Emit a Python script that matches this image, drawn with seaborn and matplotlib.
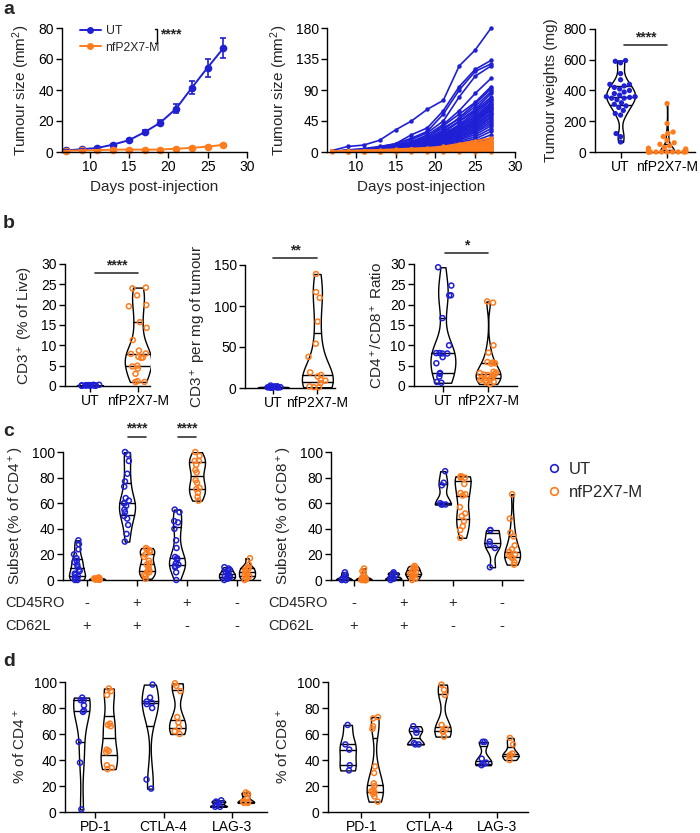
import numpy as np
import pandas as pd
import matplotlib
matplotlib.use('Agg')
import matplotlib.pyplot as plt
import seaborn as sns
from matplotlib.lines import Line2D

sns.set_style('ticks')
plt.rcParams['font.family'] = ['Liberation Sans', 'DejaVu Sans']
plt.rcParams['mathtext.fontset'] = 'custom'
plt.rcParams['mathtext.rm'] = 'Liberation Sans'
plt.rcParams['mathtext.it'] = 'Liberation Sans:italic'
plt.rcParams['mathtext.bf'] = 'Liberation Sans:bold'
plt.rcParams['axes.linewidth'] = 1.0
plt.rcParams['axes.edgecolor'] = 'black'
plt.rcParams['xtick.color'] = 'black'
plt.rcParams['ytick.color'] = 'black'
plt.rcParams['axes.labelsize'] = 11
plt.rcParams['xtick.labelsize'] = 10
plt.rcParams['ytick.labelsize'] = 10
np.random.seed(7)  # jitter of the strip points only

BLUE = '#1f1fd6'
ORANGE = '#ff7b1c'
groups = ['UT', 'nfP2X7-M']
pal = {'UT': BLUE, 'nfP2X7-M': ORANGE}
white = {'UT': 'white', 'nfP2X7-M': 'white'}

# ---- panel a: growth curves ----
days = [7, 9, 11, 13, 15, 17, 19, 21, 23, 25, 27]
ut_mean = [1.0, 1.8, 2.6, 4.8, 7.6, 12.8, 19.0, 28.0, 41.5, 54.5, 67.0]
ut_sem = [0.2, 0.3, 0.4, 0.6, 0.8, 1.4, 1.9, 2.8, 4.4, 5.8, 6.3]
nf_mean = [0.8, 1.0, 1.2, 1.5, 1.6, 1.5, 1.6, 2.1, 2.7, 3.5, 4.6]
nf_sem = [0.1, 0.1, 0.2, 0.2, 0.2, 0.2, 0.2, 0.3, 0.4, 0.5, 0.6]

ut_mice = [
    [2, 8, 10, 17, 32, 45, 62, 75, 125, 148, 180],
    [1, 3, 5, 8, 12, 25, 35, 60, 95, 120, 133],
    [1, 2, 4, 7, 12, 20, 30, 55, 90, 117, 128],
    [1, 2, 3, 6, 10, 18, 28, 45, 80, 110, 125],
    [1, 2, 3, 5, 9, 15, 25, 40, 60, 85, 107],
    [1, 2, 3, 5, 8, 14, 22, 38, 55, 72, 95],
    [1, 2, 3, 4, 8, 13, 20, 32, 50, 70, 92],
    [1, 2, 3, 5, 9, 15, 22, 35, 48, 66, 88],
    [1, 1, 2, 4, 7, 12, 18, 30, 45, 62, 85],
    [1, 2, 2, 4, 7, 11, 17, 28, 44, 60, 80],
    [1, 1, 2, 4, 6, 10, 16, 25, 40, 58, 77],
    [1, 2, 3, 5, 7, 12, 18, 27, 38, 55, 75],
    [1, 1, 2, 4, 6, 10, 15, 24, 36, 52, 72],
    [1, 2, 3, 4, 6, 11, 17, 26, 37, 50, 70],
    [1, 1, 2, 3, 6, 9, 14, 22, 34, 48, 68],
    [1, 1, 2, 4, 5, 9, 15, 23, 33, 46, 66],
    [1, 2, 2, 3, 6, 10, 14, 21, 32, 45, 64],
    [1, 1, 2, 3, 5, 8, 13, 20, 30, 44, 62],
    [1, 1, 2, 3, 5, 9, 12, 19, 29, 42, 60],
    [1, 2, 2, 3, 5, 8, 13, 20, 28, 40, 57],
    [1, 1, 2, 3, 4, 7, 11, 18, 27, 38, 55],
    [1, 1, 2, 3, 5, 8, 12, 17, 25, 36, 52],
    [1, 1, 1, 3, 4, 7, 10, 16, 24, 34, 50],
    [1, 1, 2, 2, 4, 6, 10, 15, 22, 32, 47],
    [1, 1, 1, 2, 4, 6, 9, 14, 21, 30, 44],
    [1, 1, 2, 3, 4, 6, 9, 13, 19, 28, 41],
    [1, 1, 1, 2, 3, 5, 8, 12, 18, 25, 38],
    [1, 1, 1, 2, 3, 5, 7, 11, 16, 22, 34],
    [1, 1, 1, 2, 3, 4, 7, 10, 14, 19, 30],
    [1, 1, 1, 2, 3, 4, 6, 8, 12, 16, 25],
    [1, 1, 1, 2, 2, 3, 5, 7, 10, 13, 20],
    [1, 1, 1, 1, 2, 3, 4, 6, 8, 11, 15],
]
nf_mice = [
    [1, 2, 2, 3, 4, 5, 6, 8, 12, 16, 20],
    [1, 1, 2, 2, 3, 4, 5, 7, 10, 13, 17],
    [1, 1, 1, 2, 3, 3, 4, 6, 8, 11, 15],
    [1, 1, 2, 2, 3, 4, 5, 6, 9, 12, 14],
    [1, 1, 1, 2, 2, 3, 4, 5, 7, 9, 13],
    [1, 1, 1, 2, 2, 3, 3, 5, 6, 8, 11],
    [1, 1, 1, 1, 2, 2, 3, 4, 5, 7, 10],
    [1, 1, 1, 1, 2, 2, 3, 3, 4, 6, 9],
    [1, 1, 1, 2, 2, 2, 3, 4, 5, 6, 8],
    [1, 1, 1, 1, 1, 2, 2, 3, 4, 5, 8],
    [1, 1, 1, 1, 1, 2, 2, 3, 3, 4, 7],
    [1, 1, 1, 1, 2, 2, 2, 3, 4, 5, 6],
    [1, 1, 1, 1, 1, 1, 2, 2, 3, 4, 6],
    [1, 1, 1, 1, 1, 1, 2, 2, 2, 3, 5],
    [1, 1, 1, 1, 1, 1, 1, 2, 2, 3, 4],
    [1, 1, 1, 1, 1, 1, 1, 1, 2, 2, 3],
    [1, 1, 1, 1, 1, 1, 1, 1, 1, 2, 2],
    [1, 1, 1, 1, 1, 1, 1, 1, 1, 1, 1],
    [1, 0, 0, 0, 1, 1, 1, 1, 1, 1, 1],
    [0, 0, 0, 0, 0, 0, 0, 0, 0, 0, 0],
]

wt_ut = [595, 590, 580, 510, 470, 440, 440, 430, 420, 410, 400, 390, 380, 370, 360,
         360, 355, 350, 350, 340, 320, 310, 300, 290, 270, 250, 240, 120, 100, 65]
wt_nf = [315, 185, 130, 120, 100, 75, 60, 50, 40, 30, 25, 20, 15, 10, 10, 5, 5, 5,
         0, 0, 0, 0, 0, 0, 0, 0, 0, 0]

# ---- panel b ----
cd3_ut = [0.1, 0.1, 0.2, 0.1, 0.3, 0.1, 0.2, 0.1, 0.1, 0.2, 0.3, 0.1, 0.2, 0.1, 0.2]
cd3_nf = [24.2, 24.0, 22.3, 19.9, 19.6, 15.7, 14.3, 11.3, 8.7, 8.0, 7.9, 7.2, 7.0,
          6.9, 5.0, 4.8, 4.3, 3.0, 1.2, 1.0, 1.0]
cd3mg_ut = [0.5, 1, 2, 1, 0.5, 3, 1, 0.5, 1, 2, 0.5, 1, 0.8, 1.5]
cd3mg_nf = [139, 117, 110, 81, 54, 38, 19, 16, 14, 10, 9, 6, 2, 1, 1]
ratio_ut = [29.2, 24.7, 22.3, 22.3, 16.7, 10.0, 8.1, 8.1, 8.0, 8.0, 7.1, 5.6, 3.2,
            3.0, 2.3, 1.0, 0.8]
ratio_nf = [20.8, 20.5, 10.0, 8.2, 5.9, 5.8, 5.6, 5.5, 3.5, 3.3, 3.2, 3.0, 2.8, 2.7,
            2.5, 2.2, 2.0, 1.8, 1.5, 1.3, 1.0, 0.8, 0.5]

# ---- panel c ----
cd45ro = ['-', '+', '+', '-']
cd62l = ['+', '+', '-', '-']
cd4_ut = [
    [31, 28, 24, 20, 17, 15, 14, 12, 10, 8, 7, 5, 4, 3, 2, 1, 0, 0],
    [100, 98, 93, 83, 77, 73, 64, 62, 60, 60, 58, 55, 53, 50, 48, 43, 36, 30],
    [55, 53, 46, 45, 40, 31, 25, 18, 17, 16, 13, 12, 11, 10, 6, 0],
    [10, 9, 8, 7, 6, 5, 5, 4, 3, 3, 2, 1, 1, 0],
]
cd4_nf = [
    [2, 1.5, 1.2, 1, 1, 0.8, 0.5, 0.5, 0.3, 0.2, 1, 0.7, 0.4, 0.2],
    [25, 24, 23, 22, 20, 18, 15, 13, 12, 10, 8, 7, 6, 4, 3, 1],
    [100, 97, 93, 93, 90, 86, 84, 78, 76, 72, 71, 68, 65, 62],
    [17, 12, 10, 9, 8, 7, 6, 5, 4, 3, 2, 1, 0],
]
cd8_ut = [
    [6, 4, 2, 1, 0, 0, 0],
    [6, 5, 4, 2, 1, 1, 0],
    [85, 76, 74, 60, 59, 59, 59],
    [39, 39, 30, 28, 25, 10],
]
cd8_nf = [
    [9, 7, 5, 3, 2, 1, 1, 0, 0, 0, 0, 0, 0],
    [11, 10, 9, 8, 7, 6, 5, 5, 4, 3, 2, 1, 0],
    [81, 81, 80, 80, 75, 68, 67, 66, 57, 52, 50, 46, 42, 39, 33],
    [67, 48, 37, 34, 27, 24, 22, 20, 19, 18, 17, 14, 12],
]

# ---- panel d ----
markers = ['PD-1', 'CTLA-4', 'LAG-3']
d4_ut = [[88, 86, 86, 82, 78, 77, 54, 38, 2],
         [98, 88, 85, 84, 83, 80, 25, 18],
         [9, 8, 7, 5, 4, 4]]
d4_nf = [[95, 93, 90, 68, 67, 66, 48, 47, 46, 36, 34, 33],
         [99, 97, 93, 73, 69, 65, 62, 60],
         [15, 14, 11, 8, 8, 7, 7]]
d8_ut = [[67, 52, 48, 36, 32],
         [66, 63, 61, 53, 52, 52],
         [54, 54, 41, 38, 37, 36]]
d8_nf = [[73, 72, 66, 64, 35, 30, 22, 20, 17, 16, 15, 14, 12, 8],
         [98, 94, 90, 67, 64, 62, 62, 58],
         [57, 52, 45, 44, 43, 40]]

W, H = 700, 833
fig = plt.figure(figsize=(7, 8.33), dpi=100)


def add_ax(l, t, r, b):
    return fig.add_axes([l / W, 1 - b / H, (r - l) / W, (b - t) / H])


def finish(ax):
    sns.despine(ax=ax)
    ax.tick_params(length=4, width=1, pad=2)


def hollow(ax, start, lw=1.1):
    for coll in ax.collections[start:]:
        fc = coll.get_facecolors()
        coll.set_edgecolors(fc)
        coll.set_facecolors('none')
        coll.set_linewidth(lw)
        coll.set_clip_on(False)


def sig(ax, x0, x1, y, ytxt, stars, fs=10):
    ax.plot([x0, x1], [y, y], color='#333333', lw=1.2, clip_on=False)
    ax.text((x0 + x1) / 2, ytxt, stars, ha='center', va='center', fontsize=fs,
            fontweight='bold', clip_on=False)


vio_kws = dict(linecolor='black', linewidth=1, inner='quart',
               inner_kws={'dashes': (None, None), 'linewidth': 1},
               cut=0, density_norm='width', bw_adjust=0.7, legend=False)


def two_group(ax, ut, nf, width, jitter=0.2):
    df = pd.DataFrame({'group': ['UT'] * len(ut) + ['nfP2X7-M'] * len(nf),
                       'value': list(ut) + list(nf)})
    sns.violinplot(data=df, x='group', y='value', hue='group', order=groups,
                   hue_order=groups, palette=white, width=width, dodge=False,
                   ax=ax, **vio_kws)
    n0 = len(ax.collections)
    sns.stripplot(data=df, x='group', y='value', hue='group', order=groups,
                  hue_order=groups, palette=pal, size=3.6, jitter=jitter,
                  legend=False, ax=ax)
    hollow(ax, n0)
    ax.set_xlabel('')


def multi_group(ax, cats, ut_lists, nf_lists, gap, jitter):
    rows = []
    for c, u, n in zip(cats, ut_lists, nf_lists):
        rows += [(c, 'UT', v) for v in u] + [(c, 'nfP2X7-M', v) for v in n]
    df = pd.DataFrame(rows, columns=['cat', 'group', 'value'])
    sns.violinplot(data=df, x='cat', y='value', hue='group', order=cats,
                   hue_order=groups, palette=white, width=0.8, gap=gap, ax=ax,
                   **vio_kws)
    n0 = len(ax.collections)
    sns.stripplot(data=df, x='cat', y='value', hue='group', order=cats,
                  hue_order=groups, palette=pal, dodge=True, size=3.6,
                  jitter=jitter, legend=False, ax=ax)
    hollow(ax, n0)
    ax.set_xlabel('')


# ================= a1 =================
ax = add_ax(62, 28, 247, 152)
sns.lineplot(x=days, y=ut_mean, color=BLUE, marker='o', markersize=5.5,
             markeredgewidth=0, lw=1.4, ax=ax)
sns.lineplot(x=days, y=nf_mean, color=ORANGE, marker='o', markersize=5.5,
             markeredgewidth=0, lw=1.4, ax=ax)
ax.errorbar(days, ut_mean, yerr=ut_sem, fmt='none', ecolor=BLUE, elinewidth=1.2,
            capsize=2.5, capthick=1.2)
ax.errorbar(days, nf_mean, yerr=nf_sem, fmt='none', ecolor=ORANGE, elinewidth=1.2,
            capsize=2.5, capthick=1.2)
for ln in ax.lines:
    ln.set_clip_on(False)
ax.set_xlim(6.5, 30)
ax.set_ylim(0, 80)
ax.set_xticks([10, 15, 20, 25, 30])
ax.set_yticks([0, 20, 40, 60, 80])
ax.set_xlabel('Days post-injection')
ax.set_ylabel('Tumour size (mm$^2$)')
hd = [Line2D([0], [0], color=BLUE, marker='o', ms=5, mew=0, lw=1.4, label='UT'),
      Line2D([0], [0], color=ORANGE, marker='o', ms=5, mew=0, lw=1.4,
             label='nfP2X7-M')]
ax.legend(handles=hd, loc='upper left', bbox_to_anchor=(0.07, 1.06),
          frameon=False, fontsize=8.8, handlelength=1.7, handletextpad=0.4,
          labelspacing=0.35, borderaxespad=0)
ax.plot([0.50, 0.515, 0.515, 0.50], [0.995, 0.995, 0.88, 0.88], color='black',
        lw=1, transform=ax.transAxes, clip_on=False)
ax.text(0.53, 0.945, '****', transform=ax.transAxes, fontsize=10,
        fontweight='bold', va='center')
finish(ax)

# ================= a2 =================
ax = add_ax(327, 28, 515, 152)
rows = []
for i, s in enumerate(ut_mice):
    rows += [('UT', i, d, v) for d, v in zip(days, s)]
df_ut = pd.DataFrame(rows, columns=['group', 'mouse', 'day', 'size'])
rows = []
for i, s in enumerate(nf_mice):
    rows += [('nfP2X7-M', i, d, v) for d, v in zip(days, s)]
df_nf = pd.DataFrame(rows, columns=['group', 'mouse', 'day', 'size'])
sns.lineplot(data=df_ut, x='day', y='size', units='mouse', estimator=None,
             color=BLUE, marker='o', markersize=3.2, markeredgewidth=0, lw=1.2,
             ax=ax)
sns.lineplot(data=df_nf, x='day', y='size', units='mouse', estimator=None,
             color=ORANGE, marker='o', markersize=3.2, markeredgewidth=0, lw=1.4,
             ax=ax)
for ln in ax.lines:
    ln.set_clip_on(False)
ax.set_xlim(6.4, 30)
ax.set_ylim(0, 180)
ax.set_xticks([10, 15, 20, 25, 30])
ax.set_yticks([0, 45, 90, 135, 180])
ax.set_xlabel('Days post-injection')
ax.set_ylabel('Tumour size (mm$^2$)')
finish(ax)

# ================= a3 =================
ax = add_ax(595, 29, 695, 152)
df = pd.DataFrame({'group': ['UT'] * len(wt_ut) + ['nfP2X7-M'] * len(wt_nf),
                   'value': wt_ut + wt_nf})
sns.violinplot(data=df[df.group == 'UT'], x='group', y='value', hue='group',
               order=groups, hue_order=groups, palette=white, width=0.62,
               dodge=False, ax=ax, **vio_kws)
sns.violinplot(data=df[df.group == 'nfP2X7-M'], x='group', y='value', hue='group',
               order=groups, hue_order=groups, palette=white, width=0.3,
               dodge=False, ax=ax, **vio_kws)
n0 = len(ax.collections)
sns.swarmplot(data=df, x='group', y='value', hue='group', order=groups,
              hue_order=groups, palette=pal, size=3.8, legend=False,
              warn_thresh=1, ax=ax)
for coll in ax.collections[n0:]:
    coll.set_clip_on(False)
ax.set_xlim(-0.55, 1.6)
ax.set_ylim(0, 800)
ax.set_yticks([0, 200, 400, 600, 800])
ax.set_xlabel('')
ax.set_ylabel('Tumour weights (mg)')
sig(ax, 0.08, 1.0, 696, 748, '****')
finish(ax)

# ================= b =================
ax = add_ax(65, 264, 150, 386)
two_group(ax, cd3_ut, cd3_nf, 0.55)
ax.set_xlim(-0.52, 1.25)
ax.set_ylim(0, 30)
ax.set_yticks(range(0, 31, 5))
ax.set_ylabel('CD3$^+$ (% of Live)')
sig(ax, 0.1, 1.0, 27.8, 29.7, '****')
finish(ax)

ax = add_ax(245, 265, 335, 388)
two_group(ax, cd3mg_ut, cd3mg_nf, 0.7)
ax.set_xlim(-0.64, 1.4)
ax.set_ylim(0, 150)
ax.set_yticks([0, 50, 100, 150])
ax.set_ylabel('CD3$^+$ per mg of tumour')
sig(ax, 0.0, 1.0, 158.5, 168, '**')
finish(ax)

ax = add_ax(414, 264, 517, 386)
two_group(ax, ratio_ut, ratio_nf, 0.55)
ax.set_xlim(-0.64, 1.64)
ax.set_ylim(0, 30)
ax.set_yticks(range(0, 31, 5))
ax.set_ylabel('CD4$^+$/CD8$^+$ Ratio')
sig(ax, 0.05, 1.0, 32.7, 34.6, '*')
finish(ax)

# ================= c =================
cats = [a + '/' + b for a, b in zip(cd45ro, cd62l)]
for (l, r, lo, hi), ut_l, nf_l, lab, x_lab in [
        ((63, 260, -0.48, 3.46), cd4_ut, cd4_nf, 'Subset (% of CD4$^+$)', 5),
        ((331, 523, -0.46, 3.42), cd8_ut, cd8_nf, 'Subset (% of CD8$^+$)', 268)]:
    ax = add_ax(l, 452, r, 580)
    multi_group(ax, cats, ut_l, nf_l, 0.2, 0.12)
    ax.set_xlim(lo, hi)
    ax.set_ylim(0, 100)
    ax.set_yticks(range(0, 101, 20))
    ax.set_xticks(range(4))
    ax.set_xticklabels([])
    ax.set_ylabel(lab)
    tr = ax.get_xaxis_transform()
    for i, (ro, lv) in enumerate(zip(cd45ro, cd62l)):
        ax.text(i, -0.18, ro, transform=tr, ha='center', va='center', fontsize=10.5)
        ax.text(i, -0.36, lv, transform=tr, ha='center', va='center', fontsize=10.5)
    fig.text(x_lab / W, 1 - 603 / H, 'CD45RO', fontsize=10.5, va='center')
    fig.text(x_lab / W, 1 - 626 / H, 'CD62L', fontsize=10.5, va='center')
    if lab.startswith('Subset (% of CD4'):
        sig(ax, 0.82, 1.18, 111.7, 118, '****')
        sig(ax, 1.82, 2.18, 111.7, 118, '****')
    finish(ax)

leg_h = [Line2D([], [], marker='o', ls='', mfc='none', mec=BLUE, mew=1.2, ms=5.5,
                label='UT'),
         Line2D([], [], marker='o', ls='', mfc='none', mec=ORANGE, mew=1.2, ms=5.5,
                label='nfP2X7-M')]
fig.legend(handles=leg_h, loc='upper left', bbox_to_anchor=(537 / W, 1 - 455 / H),
           frameon=False, fontsize=12, handletextpad=0.3, labelspacing=0.5,
           borderaxespad=0, handlelength=1.2)

# ================= d =================
for (l, r, lo, hi), ut_l, nf_l, lab in [
        ((65, 267, -0.44, 2.51), d4_ut, d4_nf, '% of CD4$^+$'),
        ((328, 528, -0.49, 2.46), d8_ut, d8_nf, '% of CD8$^+$')]:
    ax = add_ax(l, 682, r, 812)
    multi_group(ax, markers, ut_l, nf_l, 0.4, 0.1)
    ax.set_xlim(lo, hi)
    ax.set_ylim(0, 100)
    ax.set_yticks(range(0, 101, 20))
    ax.set_ylabel(lab)
    finish(ax)

for lbl, y in [('a', 10), ('b', 223), ('c', 432), ('d', 662)]:
    fig.text(3 / W, 1 - y / H, lbl, fontsize=14, fontweight='bold', va='center')

fig.savefig('out.png', dpi=100)
